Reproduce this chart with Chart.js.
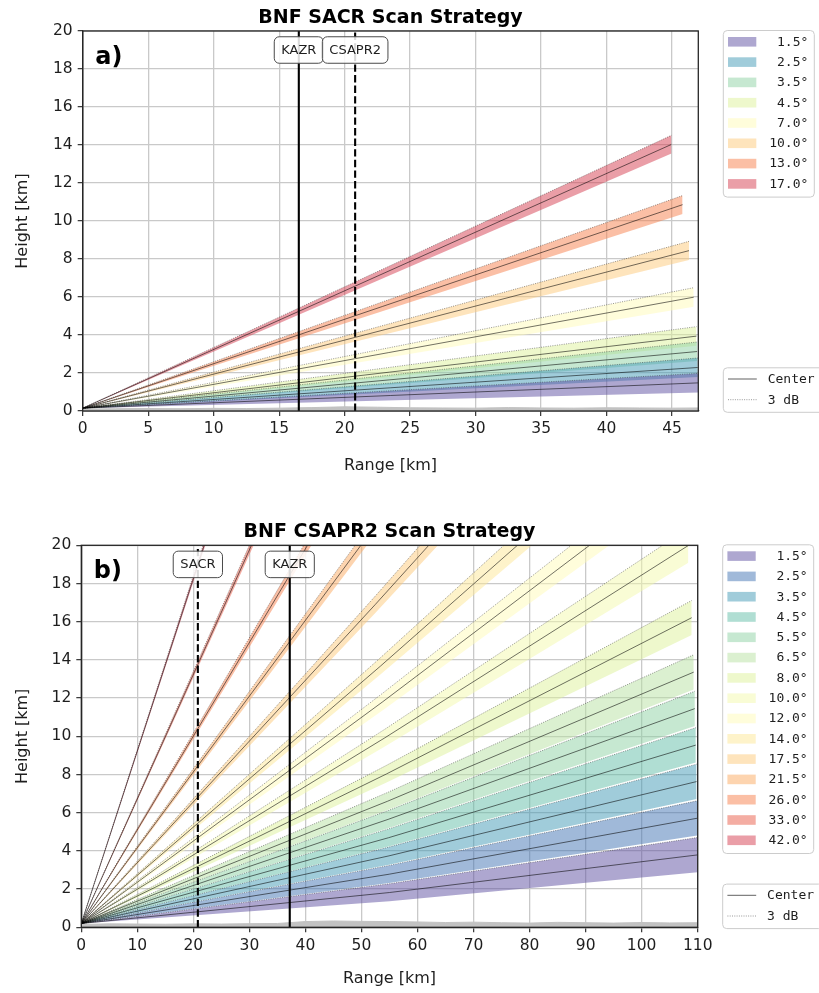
<!DOCTYPE html>
<html>
<head>
<meta charset="utf-8">
<script src="https://cdn.jsdelivr.net/npm/chart.js@4.4.0/dist/chart.umd.min.js"></script>
<style>
html, body { margin: 0; padding: 0; background: #ffffff; }
#wrap { position: relative; width: 819px; height: 993px; overflow: hidden; }
.pane { position: absolute; left: 0; width: 819px; }
#pa { top: 0px; height: 496px; }
#pb { top: 500px; height: 493px; }
canvas { display: block; }
</style>
</head>
<body>
<div id="wrap">
  <div class="pane" id="pa"><canvas id="ca" width="819" height="496"></canvas></div>
  <div class="pane" id="pb"><canvas id="cb" width="819" height="493"></canvas></div>
</div>
<script>
// ---------------- DATA ----------------
const yTicks = [0, 2, 4, 6, 8, 10, 12, 14, 16, 18, 20];

// Panel a) BNF SACR
const titleA = 'BNF SACR Scan Strategy';
const elevA = [1.5, 2.5, 3.5, 4.5, 7.0, 10.0, 13.0, 17.0];
const originA = 0.15;
const endRangeA  = [46.98, 46.96, 46.91, 46.86, 46.65, 46.29, 45.80, 44.95];
const centerEndA = [1.48, 2.29, 3.13, 3.94, 5.99, 8.44, 10.86, 14.03];
const upperEndA  = [1.98, 2.79, 3.63, 4.44, 6.49, 8.93, 11.34, 14.51];
const lowerEndA  = [0.98, 1.79, 2.63, 3.44, 5.49, 7.95, 10.37, 13.55];
const xTicksA = [0, 5, 10, 15, 20, 25, 30, 35, 40, 45];
const xMaxA = 47;
const instrumentsA = ['KAZR', 'CSAPR2'];
const instrumentRangeA = [16.5, 20.8];
const instrumentDashedA = [false, true];
const terrainRangeA = [0, 2.5, 5, 7.5, 10, 12.5, 15, 17.5, 20, 22.5, 25, 27.5, 30, 32.5, 35, 37.5, 40, 42.5, 45, 47];
const terrainA      = [0.10, 0.12, 0.13, 0.12, 0.14, 0.13, 0.15, 0.18, 0.22, 0.20, 0.17, 0.16, 0.15, 0.18, 0.16, 0.15, 0.17, 0.16, 0.15, 0.16];

// Panel b) BNF CSAPR2
const titleB = 'BNF CSAPR2 Scan Strategy';
const elevB = [1.5, 2.5, 3.5, 4.5, 5.5, 6.5, 8.0, 10.0, 12.0, 14.0, 17.5, 21.5, 26.0, 33.0, 42.0];
const originB = 0.2;
const midRangeB  = [54.98, 54.95, 54.90, 54.83, 54.75, 54.65, 54.47, 54.17, 53.80, 53.37, 52.46, 51.18, 49.44, 46.13, 40.88];
const endRangeB  = [109.96, 109.90, 109.80, 109.66, 109.49, 109.29, 108.93, 108.33, 107.60, 106.73, 104.91, 102.35, 98.87, 92.25, 81.75];
const centerMidB = [1.82, 2.78, 3.74, 4.69, 5.65, 6.60, 8.03, 9.92, 11.81, 13.67, 16.90, 20.51, 24.45, 30.28, 37.10];
const centerEndB = [3.79, 5.71, 7.63, 9.54, 11.45, 13.36, 16.21, 19.99, 23.75, 27.48, 33.93, 41.13, 49.00, 60.61, 74.20];
const upperMidB  = [2.28, 3.24, 4.20, 5.15, 6.11, 7.06, 8.48, 10.37, 12.26, 14.11, 17.34, 20.94, 24.86, 30.66, 37.44];
const upperEndB  = [4.70, 6.62, 8.54, 10.45, 12.36, 14.27, 17.11, 20.89, 24.64, 28.37, 34.80, 41.98, 49.82, 61.38, 74.88];
const lowerMidB  = [1.36, 2.32, 3.28, 4.23, 5.19, 6.14, 7.58, 9.47, 11.36, 13.23, 16.46, 20.08, 24.04, 29.90, 36.76];
const lowerEndB  = [2.88, 4.80, 6.72, 8.63, 10.54, 12.45, 15.31, 19.09, 22.86, 26.59, 33.06, 40.28, 48.18, 59.84, 73.52];
const xTicksB = [0, 10, 20, 30, 40, 50, 60, 70, 80, 90, 100, 110];
const xMaxB = 110;
const instrumentsB = ['SACR', 'KAZR'];
const instrumentRangeB = [20.8, 37.2];
const instrumentDashedB = [true, false];
const terrainRangeB = [0, 5, 10, 15, 20, 25, 30, 35, 40, 45, 50, 55, 60, 65, 70, 75, 80, 85, 90, 95, 100, 105, 110];
const terrainB      = [0.15, 0.18, 0.17, 0.16, 0.18, 0.17, 0.19, 0.20, 0.30, 0.33, 0.31, 0.30, 0.28, 0.25, 0.27, 0.24, 0.22, 0.26, 0.24, 0.22, 0.25, 0.23, 0.24];

// ---------------- STYLES ----------------
const colorsA = ['#5e4fa2', '#4299b6', '#8dd1a4', '#def29a', '#fffbb8', '#feca79', '#f7804c', '#d53e4f'];
const colorsB = ['#5e4fa2', '#4274b3', '#4199b6', '#62bea7', '#8dd1a4', '#b8e2a1', '#def29a', '#f3faac',
                 '#fffbb8', '#fee796', '#feca79', '#fca95f', '#f7804c', '#e95c47', '#d53e4f'];
const CENTER_COLOR = 'rgba(0,0,0,0.62)';
const DB_COLOR = 'rgba(40,40,40,0.6)';
const TEXT = '#1e1e1e';
const FONT = '"DejaVu Sans", "Liberation Sans", sans-serif';
const MONO = '"DejaVu Sans Mono", "Liberation Mono", monospace';

function rgba(hex, a) {
  const n = parseInt(hex.slice(1), 16);
  return 'rgba(' + (n >> 16) + ',' + ((n >> 8) & 255) + ',' + (n & 255) + ',' + a + ')';
}
function zip(xs, ys) { return xs.map((x, k) => ({ x: x, y: ys[k] })); }

// ---------------- BUILD ----------------
function buildPanel(canvasId, P, L) {
  const ds = [];
  // instrument lines
  P.instruments.forEach((name, i) => {
    ds.push({
      label: name,
      data: [{ x: P.instRange[i], y: yTicks[0] }, { x: P.instRange[i], y: yTicks[yTicks.length - 1] }],
      borderColor: '#000', borderWidth: 2.1,
      borderDash: P.instDashed[i] ? [7.4, 3.2] : [],
      fill: false, order: 0
    });
  });
  // beams
  P.elev.forEach((e, i) => {
    const xs = P.rangePts[i];
    ds.push({
      label: e.toFixed(1) + '° 3 dB',
      data: zip(xs, P.upperPts[i]),
      borderColor: DB_COLOR, borderWidth: 0.8, borderDash: [1, 1.3],
      fill: '+1', backgroundColor: rgba(P.colors[i], 0.5), order: 2
    });
    ds.push({
      label: e.toFixed(1) + '° lower',
      data: zip(xs, P.lowerPts[i]),
      borderColor: 'rgba(0,0,0,0)', borderWidth: 0.01,
      fill: false, order: 3
    });
    ds.push({
      label: e.toFixed(1) + '° center',
      data: zip(xs, P.centerPts[i]),
      borderColor: CENTER_COLOR, borderWidth: 0.9,
      fill: false, order: 1
    });
  });
  // terrain
  ds.push({
    label: 'terrain',
    data: zip(P.terrainRange, P.terrain),
    borderColor: '#c2c2c2', borderWidth: 1,
    fill: 'origin', backgroundColor: '#c2c2c2', order: 6
  });

  const overlay = {
    id: 'overlay_' + canvasId,
    afterDatasetsDraw(chart) {
      const ctx = chart.ctx, a = chart.chartArea, x = chart.scales.x, y = chart.scales.y;
      ctx.save();
      // spines
      ctx.strokeStyle = '#262626'; ctx.lineWidth = 1.3;
      ctx.strokeRect(a.left, a.top, a.right - a.left, a.bottom - a.top);
      // instrument labels
      ctx.font = '13px ' + FONT;
      ctx.textAlign = 'center'; ctx.textBaseline = 'middle';
      P.instruments.forEach((name, i) => {
        const px = x.getPixelForValue(P.instRange[i]);
        const py = y.getPixelForValue(19.0);
        const w = ctx.measureText(name).width + 14;
        const h = 26.5;
        ctx.beginPath();
        ctx.roundRect(px - w / 2, py - h / 2, w, h, 5);
        ctx.fillStyle = 'rgba(255,255,255,0.85)'; ctx.fill();
        ctx.strokeStyle = '#4a4a4a'; ctx.lineWidth = 1; ctx.stroke();
        ctx.fillStyle = TEXT;
        ctx.fillText(name, px, py + 0.5);
      });
      // panel letter
      ctx.font = 'bold 24px ' + FONT;
      ctx.textAlign = 'left'; ctx.textBaseline = 'alphabetic';
      ctx.fillStyle = '#000';
      ctx.fillText(P.letter, a.left + 12.5, a.top + 32.5);
      ctx.restore();
    },
    afterDraw(chart) {
      const ctx = chart.ctx, a = chart.chartArea;
      ctx.save();
      // title
      ctx.font = 'bold 19px ' + FONT;
      ctx.fillStyle = '#000'; ctx.textAlign = 'center'; ctx.textBaseline = 'alphabetic';
      ctx.fillText(P.title, (a.left + a.right) / 2, a.top - 8.3);
      // elevation legend
      const lx = a.right + 25, lw = 91, rowH = 20.3;
      const ltop = a.top - 0.5;
      const lh = P.elev.length * rowH + 4.2;
      ctx.beginPath(); ctx.roundRect(lx, ltop, lw, lh, 4);
      ctx.fillStyle = 'rgba(255,255,255,0.85)'; ctx.fill();
      ctx.strokeStyle = '#cccccc'; ctx.lineWidth = 1; ctx.stroke();
      ctx.font = '13px ' + MONO;
      ctx.textAlign = 'right'; ctx.textBaseline = 'middle';
      P.elev.forEach((e, i) => {
        const cy = ltop + 11.3 + i * rowH;
        ctx.fillStyle = rgba(P.colors[i], 0.5);
        ctx.fillRect(a.right + 29.7, cy - 4.8, 28.3, 9.6);
        ctx.fillStyle = TEXT;
        ctx.fillText(e.toFixed(1) + '°', a.right + 110, cy + 0.5);
      });
      // line-style legend
      const bBottom = a.bottom + 1.3, bh = 44.5, btop = bBottom - bh;
      ctx.beginPath(); ctx.roundRect(lx, btop, 100, bh, 4);
      ctx.fillStyle = 'rgba(255,255,255,0.85)'; ctx.fill();
      ctx.strokeStyle = '#cccccc'; ctx.lineWidth = 1; ctx.stroke();
      const rows = [['Center', CENTER_COLOR, [], 1.0], ['3 dB', DB_COLOR, [1, 1.3], 0.8]];
      ctx.textAlign = 'left';
      rows.forEach((r, k) => {
        const cy = btop + 11.2 + k * 20.7;
        ctx.beginPath();
        ctx.setLineDash(r[2]); ctx.lineWidth = r[3]; ctx.strokeStyle = r[1];
        ctx.moveTo(a.right + 29.7, cy); ctx.lineTo(a.right + 58.5, cy); ctx.stroke();
        ctx.setLineDash([]);
        ctx.fillStyle = TEXT;
        ctx.fillText(r[0], a.right + 69.4, cy + 0.5);
      });
      ctx.restore();
    }
  };

  const tickFont = { family: FONT, size: 15.5 };
  const titleFont = { family: FONT, size: 16 };
  const gridCfg = { color: '#c9c9c9', lineWidth: 1.3, tickLength: 5, tickColor: '#333', tickWidth: 1.2, drawTicks: true };

  return new Chart(document.getElementById(canvasId), {
    type: 'line',
    data: { datasets: ds },
    plugins: [overlay],
    options: {
      responsive: false, animation: false, devicePixelRatio: 1,
      layout: { padding: { top: L.top, right: L.right, left: 0, bottom: 0 } },
      elements: { point: { radius: 0, hoverRadius: 0 }, line: { tension: 0 } },
      plugins: {
        legend: { display: false }, tooltip: { enabled: false }, title: { display: false },
        filler: { drawTime: 'beforeDatasetsDraw', propagate: false }
      },
      scales: {
        x: {
          type: 'linear', min: 0, max: P.xMax,
          afterBuildTicks: s => { s.ticks = P.xTicks.map(v => ({ value: v })); },
          afterFit: s => { s.height = L.xAxisH; },
          ticks: { font: tickFont, color: TEXT, padding: 4, maxRotation: 0, autoSkip: false },
          grid: gridCfg,
          border: { display: true, color: '#333', width: 1.3 },
          title: { display: true, text: 'Range [km]', font: titleFont, color: TEXT, padding: { top: 0, bottom: L.xTitlePad } }
        },
        y: {
          type: 'linear', min: yTicks[0], max: yTicks[yTicks.length - 1],
          afterBuildTicks: s => { s.ticks = yTicks.map(v => ({ value: v })); },
          afterFit: s => { s.width = L.left; },
          ticks: { font: tickFont, color: TEXT, padding: 5 },
          grid: gridCfg,
          border: { display: true, color: '#333', width: 1.3 },
          title: { display: true, text: 'Height [km]', font: titleFont, color: TEXT, padding: { top: 12.9, bottom: 0 } }
        }
      }
    }
  });
}

buildPanel('ca', {
  title: titleA, letter: 'a)', elev: elevA, colors: colorsA, xMax: xMaxA, xTicks: xTicksA,
  rangePts: endRangeA.map(e => [0, e]),
  centerPts: centerEndA.map(v => [originA, v]),
  upperPts: upperEndA.map(v => [originA, v]),
  lowerPts: lowerEndA.map(v => [originA, v]),
  instruments: instrumentsA, instRange: instrumentRangeA, instDashed: instrumentDashedA,
  terrainRange: terrainRangeA, terrain: terrainA
}, { top: 31, right: 120.7, left: 82.7, xAxisH: 85, xTitlePad: 20.4 });

buildPanel('cb', {
  title: titleB, letter: 'b)', elev: elevB, colors: colorsB, xMax: xMaxB, xTicks: xTicksB,
  rangePts: endRangeB.map((e, i) => [0, midRangeB[i], e]),
  centerPts: centerEndB.map((v, i) => [originB, centerMidB[i], v]),
  upperPts: upperEndB.map((v, i) => [originB, upperMidB[i], v]),
  lowerPts: lowerEndB.map((v, i) => [originB, lowerMidB[i], v]),
  instruments: instrumentsB, instRange: instrumentRangeB, instDashed: instrumentDashedB,
  terrainRange: terrainRangeB, terrain: terrainB
}, { top: 45.3, right: 121.3, left: 81.3, xAxisH: 65.7, xTitlePad: 4.4 });
</script>
</body>
</html>
